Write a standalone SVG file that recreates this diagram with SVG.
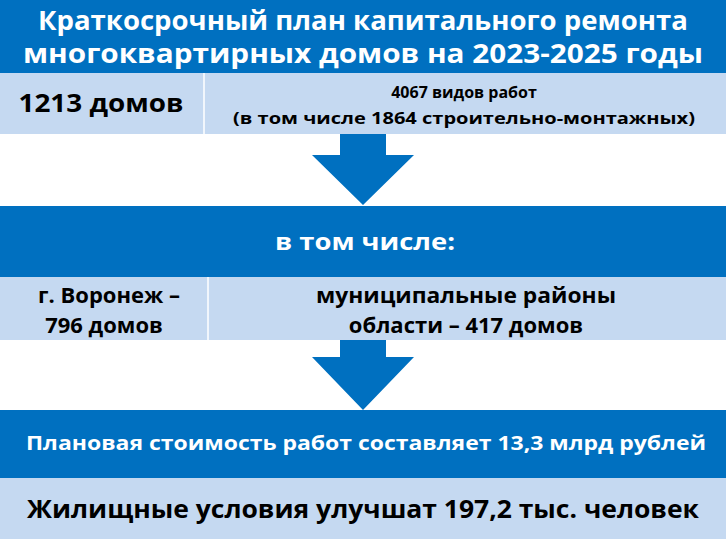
<svg xmlns="http://www.w3.org/2000/svg" width="726" height="539" viewBox="0 0 726 539">
<style>
.b{fill:#0070C0}.l{fill:#C5D9F1}
text{font-family:"Open Sans","Liberation Sans",sans-serif;font-weight:bold;text-anchor:middle}
.w{fill:#fff}.k{fill:#000}
</style>
<rect width="726" height="539" fill="#fff"/>
<g id="title"><rect class="b" x="0" y="0" width="726" height="73"/>
<text class="w" x="363" y="30" font-size="26" textLength="650" lengthAdjust="spacingAndGlyphs">Краткосрочный план капитального ремонта</text>
<text class="w" x="363" y="63" font-size="26" textLength="680" lengthAdjust="spacingAndGlyphs">многоквартирных домов на 2023-2025 годы</text></g>
<g id="row1"><rect class="l" x="0" y="73" width="726" height="61"/><line x1="204" y1="73" x2="204" y2="134" stroke="#fff" stroke-width="1.5"/>
<text class="k" x="101" y="112" font-size="25" textLength="165" lengthAdjust="spacingAndGlyphs">1213 домов</text>
<text class="k" x="464" y="98" font-size="16">4067 видов работ</text>
<text class="k" x="464" y="124" font-size="16" textLength="462" lengthAdjust="spacingAndGlyphs">(в том числе 1864  строительно-монтажных)</text></g>
<g id="connectors">
<polygon class="b" points="340,134 386,134 386,155 414,155 363,205 312,155 340,155"/>
<polygon class="b" points="340,340 386,340 386,357 414,357 363,410 312,357 340,357"/>
</g>
<g id="band2"><rect class="b" x="0" y="206" width="726" height="71"/>
<text class="w" x="365" y="250" font-size="23" textLength="180" lengthAdjust="spacingAndGlyphs">в том числе:</text></g>
<g id="row2"><rect class="l" x="0" y="277" width="726" height="63"/><line x1="208" y1="277" x2="208" y2="340" stroke="#fff" stroke-width="1.5"/>
<text class="k" x="109" y="303" font-size="22">г. Воронеж –</text>
<text class="k" x="104" y="333" font-size="22">796 домов</text>
<text class="k" x="466" y="303" font-size="22" textLength="300" lengthAdjust="spacingAndGlyphs">муниципальные районы</text>
<text class="k" x="466" y="333" font-size="22">области – 417 домов</text></g>
<g id="band3"><rect class="b" x="0" y="410" width="726" height="68"/>
<text class="w" x="366" y="450" font-size="19" textLength="680" lengthAdjust="spacingAndGlyphs">Плановая стоимость работ составляет 13,3 млрд рублей</text></g>
<g id="row3"><rect class="l" x="0" y="478" width="726" height="61"/>
<text class="k" x="363" y="518" font-size="25" textLength="672" lengthAdjust="spacingAndGlyphs">Жилищные условия улучшат 197,2 тыс. человек</text></g>
</svg>
